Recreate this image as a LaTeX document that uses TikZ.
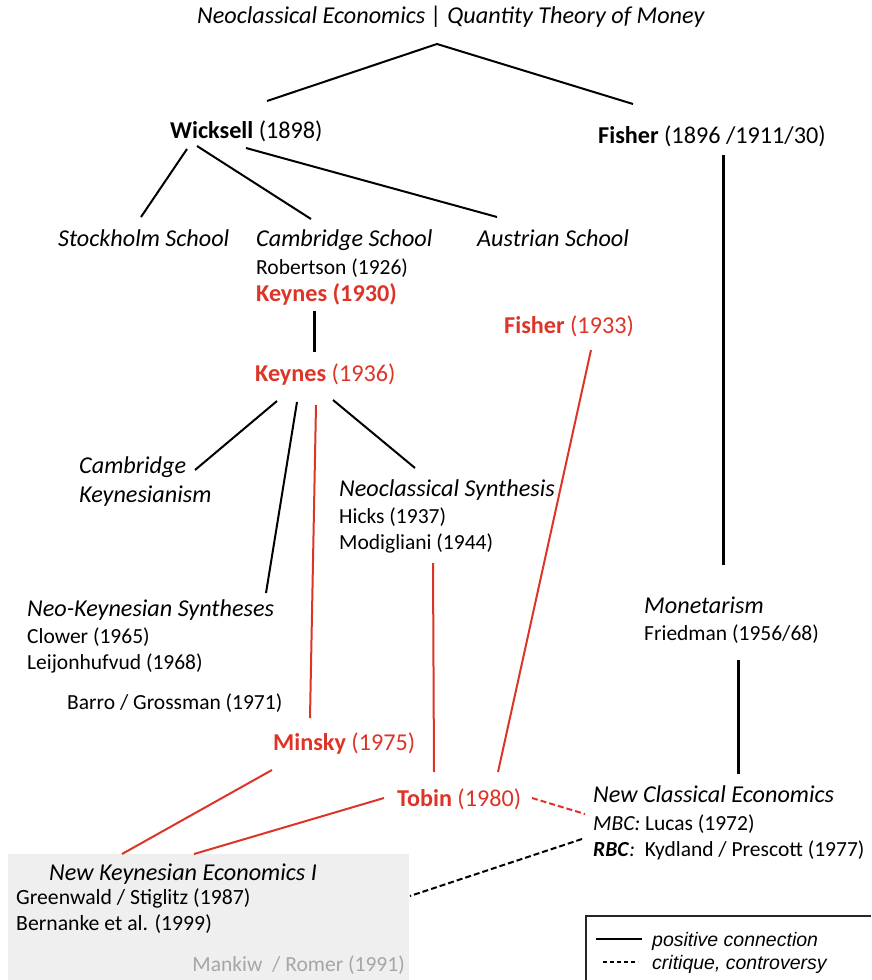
\documentclass[tikz,border=0pt]{standalone}
\usepackage{fontspec}
\setmainfont{Carlito}
\newfontfamily\legfont{Liberation Sans}
\definecolor{kred}{RGB}{221,52,40}
\definecolor{nkgray}{RGB}{239,239,239}
\definecolor{mgray}{RGB}{166,166,166}
\begin{document}
\begin{tikzpicture}[x=1pt,y=-1pt,
  txt/.style={anchor=base west, inner sep=0pt, font=\fontsize{21.5}{26}\selectfont},
  head/.style={anchor=base west, inner sep=0pt, font=\fontsize{24.2}{29}\selectfont},
  ital/.style={anchor=base west, inner sep=0pt, font=\fontsize{24.2}{29}\selectfont\itshape},
  boxtxt/.style={anchor=base west, inner sep=0pt, font=\fontsize{21.7}{26}\selectfont},
  leg/.style={anchor=base west, inner sep=0pt, font=\fontsize{19.5}{23}\selectfont\legfont\itshape},
  conn/.style={line width=2pt, black},
  thickconn/.style={line width=3pt, black},
  redconn/.style={line width=2pt, kred},
  critique/.style={line width=2pt, dash pattern=on 6pt off 3pt}]
\useasboundingbox (0,0) rectangle (871,980);

% grey box
\node[fill=nkgray, draw=none, minimum width=401pt, minimum height=130pt, anchor=north west, inner sep=0pt] (nkbox) at (8,854) {};

% texts
\node[ital] (title) at (197,23) {Neoclassical Economics | Quantity Theory of Money};
\node[head] (wick) at (170,138) {{\bfseries Wicksell} (1898)};
\node[head] (fish) at (598,143) {{\bfseries Fisher} (1896 /1911/30)};
\node[ital] (stock) at (58,246) {Stockholm School};
\node[ital] (camb) at (256,246) {Cambridge School};
\node[txt] (rob) at (256,274) {Robertson (1926)};
\node[head, kred] (k30) at (256,301) {\bfseries Keynes (1930)};
\node[ital] (aus) at (477,246) {Austrian School};
\node[head, kred] (f33) at (504,333) {{\bfseries Fisher} (1933)};
\node[head, kred] (k36) at (255,381) {{\bfseries Keynes} (1936)};
\node[ital] (ck1) at (79,473) {Cambridge};
\node[ital] (ck2) at (79,502) {Keynesianism};
\node[ital] (ns) at (339,496) {Neoclassical Synthesis};
\node[txt] (hicks) at (339,523) {Hicks (1937)};
\node[txt] (modi) at (339,549) {Modigliani (1944)};
\node[ital] (nks) at (27,616) {Neo-Keynesian Syntheses};
\node[txt] (clow) at (27,643) {Clower (1965)};
\node[txt] (leij) at (27,669) {Leijonhufvud (1968)};
\node[txt] (barro) at (67,709) {Barro / Grossman (1971)};
\node[ital] (mon) at (644,613) {Monetarism};
\node[txt] (fried) at (644,640) {Friedman (1956/68)};
\node[head, kred] (mins) at (273,750) {{\bfseries Minsky} (1975)};
\node[head, kred] (tob) at (397,806) {{\bfseries Tobin} (1980)};
\node[ital] (nce) at (593,802) {New Classical Economics};
\node[txt] (mbc) at (593,830) {\textit{MBC:} Lucas (1972)};
\node[txt] (rbc) at (593,856) {\textbf{\textit{RBC}}\textit{:}\ \ Kydland / Prescott (1977)};
\node[ital] (nke) at (49,880) {New Keynesian Economics I};
\node[boxtxt] (gs) at (16,904) {Greenwald / Stiglitz (1987)};
\node[boxtxt] (bern) at (16,930) {Bernanke et al. (1999)};
\node[txt, anchor=base east, mgray] (mank) at (405,971) {Mankiw\ \ / Romer (1991)};

% connector end points
\coordinate (top) at (437,44);
\coordinate (wickT) at (267,101);
\coordinate (fishT) at (633,104);
\coordinate (wickB1) at (187,149);
\coordinate (wickB2) at (197,146);
\coordinate (wickB3) at (246,148);
\coordinate (stockT) at (141,217);
\coordinate (cambT) at (311,219);
\coordinate (ausT) at (497,217);
\coordinate (k30B) at (314,311);
\coordinate (k36T) at (314,352);
\coordinate (fishB) at (723,155);
\coordinate (monT) at (723,565);
\coordinate (friedB) at (738,660);
\coordinate (nceT) at (738,774);
\coordinate (k36B1) at (277,401);
\coordinate (k36B2) at (297,402);
\coordinate (k36B3) at (316,405);
\coordinate (k36B4) at (333,400);
\coordinate (ckR) at (195,470);
\coordinate (nksT) at (266,593);
\coordinate (minsT) at (310,718);
\coordinate (nsT) at (415,468);
\coordinate (modiB) at (433,563);
\coordinate (tobT1) at (434,772);
\coordinate (f33B) at (591,350);
\coordinate (tobT2) at (498,772);
\coordinate (minsB) at (272,770);
\coordinate (nkeT1) at (122,854);
\coordinate (tobL) at (384,798);
\coordinate (nkeT2) at (194,854);
\coordinate (tobR) at (532,798);
\coordinate (nceL1) at (585,814);
\coordinate (nceL2) at (582,839);
\coordinate (nkeR) at (410,896);

% connectors
\draw[conn] (wickT) -- (top) -- (fishT);
\draw[conn] (wickB1) -- (stockT);
\draw[conn] (wickB2) -- (cambT);
\draw[conn] (wickB3) -- (ausT);
\draw[thickconn] (k30B) -- (k36T);
\draw[thickconn] (fishB) -- (monT);
\draw[thickconn] (friedB) -- (nceT);
\draw[conn] (k36B1) -- (ckR);
\draw[conn] (k36B2) -- (nksT);
\draw[redconn] (k36B3) -- (minsT);
\draw[conn] (k36B4) -- (nsT);
\draw[redconn] (modiB) -- (tobT1);
\draw[redconn] (f33B) -- (tobT2);
\draw[redconn] (minsB) -- (nkeT1);
\draw[redconn] (tobL) -- (nkeT2);
\draw[critique, kred] (tobR) -- (nceL1);
\draw[critique, black] (nceL2) -- (nkeR);

% legend
\coordinate (legBL) at (586,980);
\coordinate (legTL) at (586,916);
\coordinate (legTR) at (871,916);
\draw[line width=1.5pt, black!85] (legBL) -- (legTL) -- (legTR);
\coordinate (ls1) at (596,939);
\coordinate (ls2) at (642,939);
\coordinate (ld1) at (603,962);
\coordinate (ld2) at (638,962);
\draw[line width=2.5pt, black] (ls1) -- (ls2);
\draw[line width=1.2pt, black, dash pattern=on 4pt off 3pt] (ld1) -- (ld2);
\node[leg] (lp) at (652,946) {positive connection};
\node[leg] (lc) at (652,969) {critique, controversy};
\end{tikzpicture}
\end{document}
